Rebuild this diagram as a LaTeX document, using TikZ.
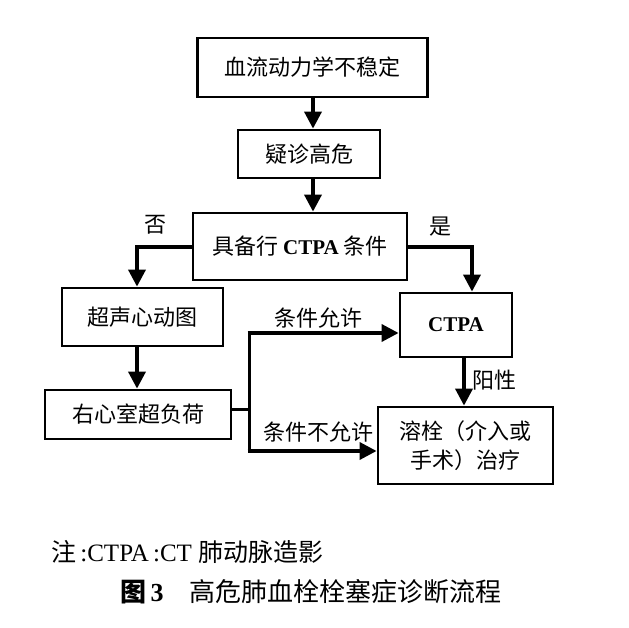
\documentclass[tikz,border=0pt]{standalone}
\usepackage{fontspec}
\setmainfont{Liberation Serif}
\newfontfamily\cjk{Noto Sans CJK SC}
\usetikzlibrary{arrows.meta}
\begin{document}
\begin{tikzpicture}[x=1pt,y=-1pt,
  box/.style={draw, line width=2.8pt, inner sep=0pt, align=center, font=\fontsize{22}{29}\selectfont\cjk},
  arr/.style={line width=3.6pt, -{Triangle[width=17pt,length=17pt]}},
  ln/.style={line width=3pt},
  lbl/.style={font=\fontsize{22}{25}\selectfont\cjk, inner sep=0pt}]
\useasboundingbox (0,0) rectangle (629,628);
\node[box, minimum width=230pt, minimum height=59pt] (b1) at (312.5,67.5) {血流动力学不稳定};
\node[box, minimum width=142pt, minimum height=48pt] (b2) at (309,154) {疑诊高危};
\node[box, minimum width=214pt, minimum height=67pt] (b3) at (300,246.5) {具备行 {\rmfamily\bfseries\fontsize{21}{25}\selectfont CTPA} 条件};
\node[box, minimum width=161pt, minimum height=58pt] (b4) at (142.5,317) {超声心动图};
\node[box, minimum width=186pt, minimum height=49pt] (b5) at (138,414.5) {右心室超负荷};
\node[box, minimum width=112pt, minimum height=64pt] (b6) at (456,325) {{\rmfamily\bfseries\fontsize{21}{25}\selectfont CTPA}};
\node[box, minimum width=175pt, minimum height=77pt] (b7) at (465.5,445.5) {溶栓（介入或\\手术）治疗};
% vertical arrows
\draw[arr] (313,97) coordinate (a1) -- (a1 |- b2.north);
\draw[arr] (313,178) coordinate (a2) -- (a2 |- b3.north);
\coordinate (nl) at (137,247);
\coordinate (nr) at (472,247);
\draw[arr] (b3.west |- nl) -| (nl |- b4.north);
\draw[arr] (b3.east |- nr) -| (nr |- b6.north);
\draw[arr] (137,346) coordinate (a3) -- (a3 |- b5.north);
\draw[arr] (464,357) coordinate (a4) -- (a4 |- b7.north);
% branch
\coordinate (j) at (249,409);
\coordinate (jt) at (249,333);
\coordinate (jb) at (249,451);
\draw[ln] (b5.east |- j) -- (j);
\draw[ln] (jt) -- (jb);
\draw[arr] ([xshift=-1.5pt]jt) -- (jt -| b6.west);
\draw[arr] ([xshift=-1.5pt]jb) -- (jb -| b7.west);
% labels
\node[lbl] (l1) at (155,225) {否};
\node[lbl] (l2) at (440,227) {是};
\node[lbl] (l3) at (318,318) {条件允许};
\node[lbl] (l4) at (318,432) {条件不允许};
\node[lbl] (l5) at (494,380) {阳性};
% caption
\node[anchor=west, inner sep=0pt, font=\fontsize{25}{28}\selectfont] (n1) at (51,552) {{\cjk 注}\,:CTPA\,:CT {\cjk 肺动脉造影}};
\node[anchor=west, inner sep=0pt, font=\fontsize{26}{28}\selectfont] (n2) at (120,592) {{\cjk\bfseries 图}\,\textbf{3}\hspace{26pt}{\cjk 高危肺血栓栓塞症诊断流程}};
\end{tikzpicture}
\end{document}
